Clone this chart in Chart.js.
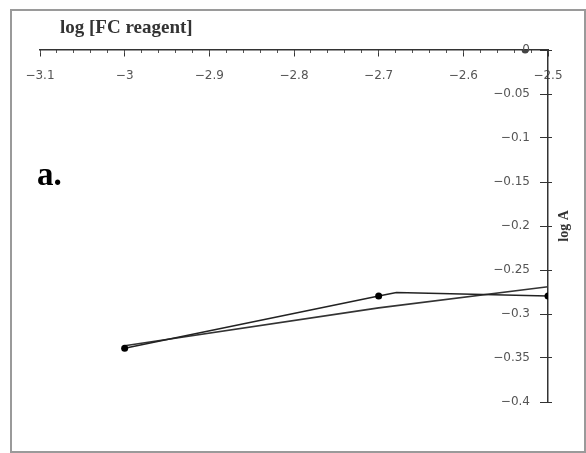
<!DOCTYPE html>
<html>
<head>
<meta charset="utf-8">
<title>log A vs log [FC reagent]</title>
<script src="https://cdn.jsdelivr.net/npm/chart.js@4"></script>
<style>
  body { margin: 0; background: #fff; }
  #wrap { position: relative; width: 586px; height: 453px; }
  #frame {
    position: absolute; left: 10px; top: 9px; width: 572px; height: 440px;
    border: 2px solid #9a9a9a; box-sizing: content-box;
  }
  #panel {
    position: absolute; left: 37px; top: 156px;
    font: bold 33px "Liberation Serif", serif; color: #000;
  }
  canvas { position: absolute; left: 0; top: 0; }
</style>
</head>
<body>
<div id="wrap">
  <div id="frame"></div>
  <canvas id="chart" width="586" height="453"></canvas>
  <div id="panel">a.</div>
</div>
<script>
// measured points (log [FC reagent], log A)
const measuredX = [-3.0, -2.7, -2.679, -2.5];
const measuredY = [-0.339, -0.2795, -0.2756, -0.2795];
const measuredRadius = [3.5, 3.5, 0, 3.5];

// fitted line
const fitX = [-3.0, -2.7, -2.5];
const fitY = [-0.336, -0.293, -0.269];

// lone point sitting on the top axis
const axisDotX = [-2.527];
const axisDotY = [0];

const xMin = -3.1, xMax = -2.5;
const yMin = -0.4, yMax = 0;

function toPoints(xs, ys) {
  return xs.map((x, i) => ({ x: x, y: ys[i] }));
}

function fmt(v) {
  const n = +v.toFixed(3);
  return n < 0 ? '\u2212' + String(-n) : String(n);
}

const tickFont = { family: 'DejaVu Sans', size: 12 };

const axisTitles = {
  id: 'axisTitles',
  afterDraw(chart) {
    const ctx = chart.ctx;
    const area = chart.chartArea;
    ctx.save();
    ctx.fillStyle = '#333';
    ctx.font = 'bold 19px "Liberation Serif"';
    ctx.textBaseline = 'alphabetic';
    ctx.textAlign = 'left';
    ctx.fillText('log [FC reagent]', area.left + 20, area.top - 17);

    ctx.font = 'bold 14px "Liberation Serif"';
    ctx.translate(area.right + 20, (area.top + area.bottom) / 2);
    ctx.rotate(-Math.PI / 2);
    ctx.textAlign = 'center';
    ctx.fillText('log A', 0, 0);
    ctx.restore();
  }
};

new Chart(document.getElementById('chart'), {
  type: 'scatter',
  data: {
    datasets: [
      {
        label: 'measured',
        data: toPoints(measuredX, measuredY),
        showLine: true,
        borderColor: '#222',
        borderWidth: 1.6,
        backgroundColor: '#000',
        pointRadius: measuredRadius,
        pointBorderWidth: 0
      },
      {
        label: 'fit',
        data: toPoints(fitX, fitY),
        showLine: true,
        borderColor: '#333',
        borderWidth: 1.6,
        pointRadius: 0
      },
      {
        label: 'axis dot',
        data: toPoints(axisDotX, axisDotY),
        backgroundColor: '#444',
        pointRadius: 3.5,
        pointBorderWidth: 0
      }
    ]
  },
  options: {
    responsive: false,
    animation: false,
    devicePixelRatio: 1,
    layout: { padding: { left: 40, right: 34, top: 50, bottom: 51 } },
    plugins: {
      legend: { display: false },
      tooltip: { enabled: false }
    },
    scales: {
      x: {
        type: 'linear',
        min: xMin,
        max: xMax,
        position: { y: 0 },
        border: { color: '#333', width: 1.5 },
        grid: { drawOnChartArea: false, tickLength: 6, color: '#333' },
        ticks: {
          stepSize: 0.1,
          font: tickFont,
          color: '#555',
          padding: 13,
          maxRotation: 0,
          callback: v => fmt(v)
        }
      },
      xMinor: {
        type: 'linear',
        axis: 'x',
        min: xMin,
        max: xMax,
        position: { y: 0 },
        border: { display: false },
        grid: { drawOnChartArea: false, tickLength: 3, color: '#555' },
        ticks: { stepSize: 0.02, callback: () => '' }
      },
      y: {
        type: 'linear',
        min: yMin,
        max: yMax,
        position: { x: xMax },
        border: { color: '#333', width: 1.5 },
        grid: { drawOnChartArea: false, tickLength: 7, color: '#333' },
        ticks: {
          stepSize: 0.05,
          font: tickFont,
          color: '#555',
          callback: v => fmt(v) + '\u2002\u2002\u2002'
        }
      },
      yOut: {
        type: 'linear',
        axis: 'y',
        min: yMin,
        max: yMax,
        position: 'right',
        border: { display: false },
        grid: { drawOnChartArea: false, tickLength: 4, color: '#333' },
        ticks: { stepSize: 0.05, display: false }
      }
    }
  },
  plugins: [axisTitles]
});
</script>
</body>
</html>
